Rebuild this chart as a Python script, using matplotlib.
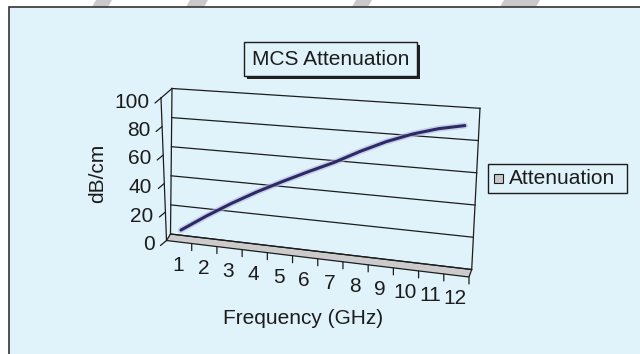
import numpy as np
import matplotlib.pyplot as plt
from matplotlib.transforms import Transform
from matplotlib.patches import Polygon, Rectangle

# chart data
categories = ['1', '2', '3', '4', '5', '6', '7', '8', '9', '10', '11', '12']
attenuation = [6, 17.5, 28, 37.5, 46, 54, 61.5, 70, 77.5, 83.5, 88, 91]
value_ticks = [0, 20, 40, 60, 80, 100]
title = 'MCS Attenuation'
series_name = 'Attenuation'
x_label = 'Frequency (GHz)'
y_label = 'dB/cm'

plt.rcParams['font.family'] = ['Liberation Sans', 'DejaVu Sans']

W, H = 640, 354
ncat = len(categories)
vmax = value_ticks[-1]

# corners (pixels) of the back wall and the front plane: tl, tr, bl, br
back = [(172, 88.5), (480, 108.3), (170.5, 234), (471.7, 269.5)]
front = [(161, 98), (477, 115.5), (166.5, 240.5), (469, 277)]
mid = [((a[0] + b[0]) / 2, (a[1] + b[1]) / 2) for a, b in zip(back, front)]


class Wall(Transform):
    # maps (category position 0..ncat, value 0..vmax) onto a tilted plane
    input_dims = 2
    output_dims = 2

    def __init__(self, corners):
        super().__init__()
        self.c = np.array(corners, float)

    def transform_non_affine(self, xy):
        xy = np.asarray(xy, float).reshape(-1, 2)
        u = (xy[:, 0] / ncat)[:, None]
        v = (xy[:, 1] / vmax)[:, None]
        tl, tr, bl, br = self.c
        top = (1 - u) * tl + u * tr
        bot = (1 - u) * bl + u * br
        return bot + v * (top - bot)


fig = plt.figure(figsize=(W / 100, H / 100), dpi=100)
fig.patch.set_facecolor('white')
ax = fig.add_axes([0, 0, 1, 1])
ax.set_xlim(0, W)
ax.set_ylim(H, 0)
ax.axis('off')

back_tf = Wall(back) + ax.transData
front_tf = Wall(front) + ax.transData
mid_tf = Wall(mid) + ax.transData

# page decoration and panel
for x0, w in [(92, 16), (186, 18), (352, 16), (500, 36)]:
    ax.add_patch(Polygon([(x0 + 4, 0), (x0 + 4 + w, 0), (x0 + w, 7), (x0, 7)],
                         closed=True, fc='#c9c9c9', ec='none'))
ax.add_patch(Rectangle((9, 7), W, H, fc='#e0f3fa', ec='#333333', lw=1.2))

ink = '#1c1c1c'
pos = np.arange(ncat + 1)

# floor
floor = [(0, 0), (ncat, 0)]
fl = np.vstack([back_tf.transform(floor), front_tf.transform(floor)[::-1]])
ax.add_patch(Polygon(ax.transData.inverted().transform(fl), closed=True,
                     fc='#cbcbcb', ec=ink, lw=0.9))

# back wall gridlines and edges
for v in value_ticks:
    ax.plot([0, ncat], [v, v], color=ink, lw=0.9, transform=back_tf)
for x in [0, ncat]:
    ax.plot([x, x], [0, vmax], color=ink, lw=0.9, transform=back_tf)

# front value axis, side edge and ticks
ax.plot([0, 0], [0, vmax], color=ink, lw=0.9, transform=front_tf)
edge = np.vstack([front_tf.transform([(0, vmax)]), back_tf.transform([(0, vmax)])])
ax.plot(*ax.transData.inverted().transform(edge).T, color=ink, lw=0.9)
for v in value_ticks:
    ax.annotate('', xy=(0, v), xycoords=front_tf, xytext=(-6, -5),
                textcoords='offset pixels',
                arrowprops=dict(arrowstyle='-', color=ink, lw=0.9,
                                shrinkA=0, shrinkB=0))
    ax.annotate(str(v), xy=(0, v), xycoords=front_tf, xytext=(-12, -4),
                textcoords='offset pixels', ha='right', va='center',
                fontsize=15, color=ink)

# category axis ticks and labels
for x in pos[1:]:
    ax.annotate('', xy=(x, 0), xycoords=front_tf, xytext=(0, -7),
                textcoords='offset pixels',
                arrowprops=dict(arrowstyle='-', color=ink, lw=0.9,
                                shrinkA=0, shrinkB=0))
for i, lab in enumerate(categories):
    ax.annotate(lab, xy=(i + 0.5, 0), xycoords=front_tf, xytext=(-1, -23),
                textcoords='offset pixels', ha='center', va='center',
                fontsize=15, color=ink)

# series
xs = np.arange(ncat) + 0.5
ax.plot(xs, attenuation, color='#b9b6dc', lw=4.5, alpha=0.6,
        solid_capstyle='round', transform=mid_tf)
ax.plot(xs, attenuation, color='#2b2a66', lw=2.2, solid_capstyle='round',
        transform=mid_tf)

# title box with shadow
ax.add_patch(Rectangle((247, 45), 173, 34, fc='#222222', ec='none'))
ax.add_patch(Rectangle((244, 42), 173, 34, fc='#e0f3fa', ec=ink, lw=1.0))
ax.text(330.5, 59.5, title, ha='center', va='center', fontsize=15, color=ink)

# legend
ax.add_patch(Rectangle((488, 164), 139, 29, fc='#e0f3fa', ec=ink, lw=1.0))
ax.add_patch(Rectangle((494, 174), 9, 9, fc='#c8c8c8', ec=ink, lw=0.8))
ax.text(509, 178.5, series_name, ha='left', va='center', fontsize=15, color=ink)

# axis titles
ax.text(98, 173, y_label, ha='center', va='center', rotation=90,
        fontsize=15, color=ink)
ax.text(303, 318, x_label, ha='center', va='center', fontsize=15, color=ink)

fig.savefig('out.png', dpi=100)
